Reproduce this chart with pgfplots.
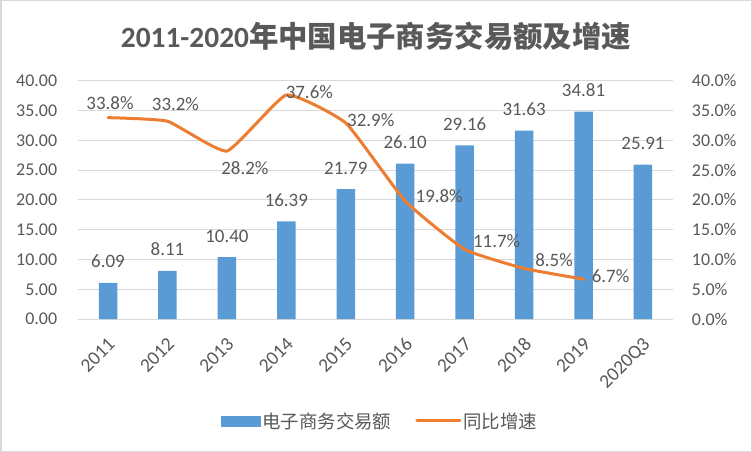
\documentclass[border=0pt]{standalone}
\usepackage{fontspec}
\setmainfont{Carlito}
\newfontfamily\cjk{Noto Sans CJK SC}
\usepackage{pgfplots}
\usepackage{pgfplotstable}
\pgfplotsset{compat=1.18}
\definecolor{barblue}{HTML}{5B9BD5}
\definecolor{lineorange}{HTML}{ED7D31}
\definecolor{txt}{HTML}{595959}
\definecolor{gridc}{HTML}{D9D9D9}

\pgfplotstableread{
x val
0 6.09
1 8.11
2 10.40
3 16.39
4 21.79
5 26.10
6 29.16
7 31.63
8 34.81
9 25.91
}\bartable

\pgfplotstableread{
x val dx dy
0 33.8 2 15
1 33.2 8 17
2 28.2 18 -17
3 37.6 23 3
4 32.9 25 3
5 19.8 34 5
6 11.7 32 8
7 8.5 30 8
8 6.7 27 3
}\linetable

\begin{document}
\begin{tikzpicture}
\useasboundingbox (0bp,0bp) rectangle (752bp,452bp);
\fill[white] (0bp,0bp) rectangle (752bp,452bp);
\draw[gridc, line width=1.5bp] (0.75bp,0.75bp) rectangle (751.25bp,451.25bp);
\node[text=txt, font=\fontsize{29.5}{32}\selectfont\bfseries, inner sep=0] at (376bp,416bp) {2011-2020{\cjk\bfseries 年中国电子商务交易额及增速}};

\begin{axis}[
  at={(78.3bp,132.9bp)}, anchor=south west,
  scale only axis, width=594.4bp, height=238.4bp,
  xmin=-0.5, xmax=9.5, ymin=0, ymax=40,
  ytick={0,5,...,40},
  xtick={0,...,9},
  xticklabels={2011,2012,2013,2014,2015,2016,2017,2018,2019,2020Q3},
  axis line style={draw=none},
  major tick length=0pt,
  ymajorgrids, major grid style={gridc, line width=1bp},
  /pgf/number format/assume math mode=true,
  tick label style={text=txt, font=\fontsize{18}{20}\selectfont},
  yticklabel style={/pgf/number format/.cd, fixed, fixed zerofill, precision=2, /tikz/.cd, inner sep=0pt, xshift=-21bp},
  xticklabel style={font=\fontsize{19.5}{21}\selectfont, xshift=-1bp, yshift=-17bp, rotate=45, anchor=north east, inner sep=0pt},
  ytick pos=left,
  clip=false,
]
\addplot[ybar, bar width=18.5bp, fill=barblue, draw=none,
  nodes near coords,
  nodes near coords style={text=txt, font=\fontsize{19}{21}\selectfont, anchor=south, inner sep=0pt, yshift=14.5bp,
    /pgf/number format/.cd, fixed, fixed zerofill, precision=2, assume math mode=true},
] table[x=x,y=val]{\bartable};
\end{axis}

\begin{axis}[
  at={(78.3bp,132.9bp)}, anchor=south west,
  scale only axis, width=594.4bp, height=238.4bp,
  xmin=-0.5, xmax=9.5, ymin=0, ymax=40,
  ytick={0,5,...,40},
  hide x axis,
  axis line style={draw=none},
  major tick length=0pt,
  ytick pos=right, yticklabel pos=right,
  /pgf/number format/assume math mode=true,
  yticklabel={\pgfmathprintnumber[fixed,fixed zerofill,precision=1]{\tick}\%},
  yticklabel style={text=txt, font=\fontsize{18}{20}\selectfont, inner sep=0pt, anchor=west, xshift=19bp},
  clip=false,
  legend style={at={(0.5076,-0.4274)}, anchor=center, draw=none, fill=none,
    font=\fontsize{18.5}{20}\selectfont\cjk, text=txt,
    /tikz/every even column/.append style={column sep=22bp},
    nodes={inner sep=2bp}},
  legend columns=2,
]
\addlegendimage{legend image code/.code={\fill[barblue] (0bp,-5bp) rectangle (39bp,5bp);}}
\addlegendentry{电子商务交易额}
\addplot[lineorange, line width=3bp, line cap=round, line join=round, smooth, tension=0.25, mark=none,
  legend image code/.code={\draw[lineorange, line width=3bp] (0bp,0bp) -- (43bp,0bp);},
  visualization depends on={\thisrow{dx}\as\mydx},
  visualization depends on={\thisrow{dy}\as\mydy},
  nodes near coords={\pgfmathprintnumber[fixed,fixed zerofill,precision=1,assume math mode=true]{\pgfplotspointmeta}\%},
  nodes near coords style={text=txt, font=\fontsize{19}{21}\selectfont, anchor=center, inner sep=0pt, xshift=\mydx bp, yshift=\mydy bp},
] table[x=x,y=val]{\linetable};
\addlegendentry{同比增速}
\end{axis}
\end{tikzpicture}
\end{document}
